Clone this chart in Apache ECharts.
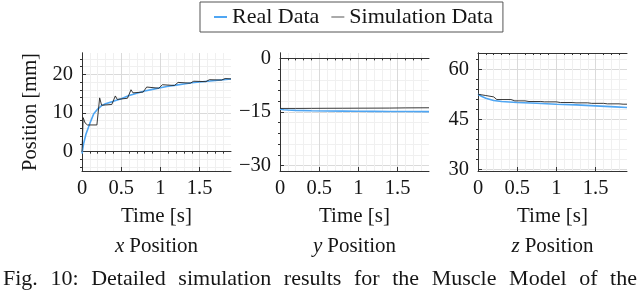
<!DOCTYPE html>
<html><head><meta charset="utf-8">
<script src="https://cdn.jsdelivr.net/npm/echarts@6/dist/echarts.min.js"></script>
<style>html,body{margin:0;padding:0;background:#fff}#c{width:640px;height:290px}</style>
</head><body><div id="c"></div>
<script>
// ---- data ----
const timeMajor = [0, 0.5, 1, 1.5];
const timeMinor = [0.1,0.2,0.3,0.4,0.6,0.7,0.8,0.9,1.1,1.2,1.3,1.4,1.6,1.7,1.8];
const xPosMajor = [0, 10, 20];
const xPosMinor = [-4,-2,2,4,6,8,12,14,16,18,22,24];
const yPosMajor = [-30, -15, 0];
const yPosMinor = [-27,-24,-21,-18,-12,-9,-6,-3];
const zPosMajor = [30, 45, 60];
const zPosMinor = [33,36,39,42,48,51,54,57,63];

const xReal = [[0,-0.5],[0.02,2],[0.05,4.5],[0.1,7.3],[0.15,9.8],[0.2,11],[0.25,11.9],[0.3,12.4],[0.4,13],[0.5,13.7],[0.6,14.5],[0.7,15.1],[0.8,15.7],[0.9,16.1],[1.0,16.5],[1.1,16.9],[1.2,17.2],[1.3,17.5],[1.4,17.8],[1.5,18],[1.6,18.2],[1.7,18.4],[1.8,18.6],[1.9,18.8]];
const xSim = [[0,0],[0.015,8.8],[0.04,7.4],[0.07,6.9],[0.19,6.9],[0.2,7.2],[0.225,13.9],[0.25,12],[0.38,12.2],[0.4,12.5],[0.425,14.4],[0.45,13.5],[0.58,13.8],[0.6,14.2],[0.625,16],[0.65,15.2],[0.78,15.4],[0.8,15.6],[0.825,16.7],[0.85,16.2],[0.98,16.4],[1.0,16.5],[1.025,17.3],[1.05,17],[1.18,17.1],[1.2,17.3],[1.225,17.9],[1.25,17.6],[1.38,17.7],[1.4,17.8],[1.425,18.2],[1.45,18],[1.58,18.1],[1.6,18.2],[1.625,18.6],[1.65,18.4],[1.78,18.5],[1.8,18.6],[1.825,18.9],[1.85,18.8],[1.9,18.8]];
const yReal = [[0,-14.2],[0.05,-14.35],[0.1,-14.45],[0.2,-14.55],[0.4,-14.65],[0.6,-14.7],[0.8,-14.75],[1.0,-14.8],[1.2,-14.82],[1.4,-14.85],[1.6,-14.88],[1.9,-14.9]];
const ySim = [[0,-14.0],[0.2,-14.0],[0.4,-13.98],[0.6,-13.96],[0.8,-13.95],[1.0,-13.93],[1.2,-13.92],[1.4,-13.9],[1.6,-13.85],[1.9,-13.82]];
const zReal = [[0,52.6],[0.05,51.9],[0.1,51.4],[0.2,50.7],[0.3,50.4],[0.5,50.1],[0.75,49.9],[1.0,49.6],[1.25,49.4],[1.5,49.1],[1.75,48.8],[1.9,48.6]];
const zSim = [[0,52.6],[0.05,52.4],[0.1,52.2],[0.2,51.8],[0.24,51.0],[0.42,51.0],[0.47,50.6],[0.6,50.6],[0.65,50.4],[0.8,50.4],[0.85,50.3],[1.0,50.3],[1.05,50.1],[1.2,50.1],[1.25,50.0],[1.4,50.0],[1.45,49.85],[1.6,49.85],[1.65,49.7],[1.8,49.7],[1.85,49.6],[1.9,49.6]];

const captionWords = ['Fig.', '10:', 'Detailed', 'simulation', 'results', 'for', 'the', 'Muscle', 'Model', 'of', 'the'];

const panels = [
  {left:82, yMin:-5, yMax:25.5, major:xPosMajor, minor:xPosMinor, real:xReal, sim:xSim, label:'x'},
  {left:280, yMin:-31.5, yMax:1.5, major:yPosMajor, minor:yPosMinor, real:yReal, sim:ySim, label:'y'},
  {left:478, yMin:29.5, yMax:65, major:zPosMajor, minor:zPosMinor, real:zReal, sim:zSim, label:'z'}
];
const FONT = 'Liberation Serif';
const AX = '#333';
const TXT = '#161616';
const fmt = v => (v < 0 ? '\u2212' + Math.abs(v) : String(v));
const lbl = s => '{s|' + s + '}';
const serifRich = size => ({s:{fontFamily:FONT, fontSize:size, color:TXT}});

const grid = [], xAxis = [], yAxis = [], series = [], graphic = [];
panels.forEach((p, i) => {
  grid.push({left: p.left, top: 53, width: 149, height: 118, containLabel: false});
  xAxis.push({type:'value', gridIndex:i, position:'top', min:0, max:1.9,
    axisLine:{show:true, lineStyle:{color:AX, width:1}},
    axisTick:{show:true, inside:true, length:2, customValues: timeMinor, lineStyle:{color:AX}},
    axisLabel:{show:false, customValues: timeMinor},
    splitLine:{show:true, lineStyle:{color:'#f0f0f0', width:1}}});
  xAxis.push({type:'value', gridIndex:i, position:'bottom', min:0, max:1.9,
    axisLine:{show:true, onZero:false, lineStyle:{color:AX, width:1}},
    axisTick:{show:true, inside:true, length:4, customValues: timeMajor, lineStyle:{color:AX}},
    axisLabel:{show:true, customValues: timeMajor, margin:7, fontFamily:FONT, fontSize:20.5, color:TXT,
      formatter: v => lbl(String(v)), rich: serifRich(20.5)},
    splitLine:{show:true, lineStyle:{color:'#dadada', width:1}}});
  yAxis.push({type:'value', gridIndex:i, position:'right', min:p.yMin, max:p.yMax,
    axisLine:{show:true, lineStyle:{color:AX, width:1}},
    axisTick:{show:true, inside:true, length:2, customValues: p.minor, lineStyle:{color:AX}},
    axisLabel:{show:false, customValues: p.minor},
    splitLine:{show:true, lineStyle:{color:'#f0f0f0', width:1}}});
  yAxis.push({type:'value', gridIndex:i, position:'left', min:p.yMin, max:p.yMax,
    axisLine:{show:true, onZero:false, lineStyle:{color:AX, width:1}},
    axisTick:{show:true, inside:true, length:4, customValues: p.major, lineStyle:{color:AX}},
    axisLabel:{show:true, customValues: p.major, margin:9, fontFamily:FONT, fontSize:20.5, color:TXT,
      formatter: v => lbl(fmt(v)), rich: serifRich(20.5)},
    splitLine:{show:true, lineStyle:{color:'#dadada', width:1}}});
  series.push({name:'Real Data', type:'line', xAxisIndex:2*i+1, yAxisIndex:2*i+1, data:p.real,
    showSymbol:false, symbol:'none', lineStyle:{color:'#4fa6f3', width:1.6}, itemStyle:{color:'#4fa6f3'}, z:3});
  series.push({name:'Simulation Data', type:'line', xAxisIndex:2*i+1, yAxisIndex:2*i+1, data:p.sim,
    showSymbol:false, symbol:'none', lineStyle:{color:'#222', width:0.9}, itemStyle:{color:'#222'}, z:4});
  const cx = p.left + 74.5;
  graphic.push({type:'text', x:cx, y:216, style:{text:'Time [s]', font:'21px "Liberation Serif"', fill:TXT, textAlign:'center', textVerticalAlign:'middle'}});
  graphic.push({type:'text', x:cx, y:246, style:{text:'{i|' + p.label + '} {r|Position}', font:'20px "Liberation Serif"', fill:TXT, textAlign:'center', textVerticalAlign:'middle',
    rich:{i:{font:'italic 21px "Liberation Serif"', fill:TXT}, r:{font:'21px "Liberation Serif"', fill:TXT}}}});
});
graphic.push({type:'text', x:31, y:112, rotation:Math.PI/2, style:{text:'Position [mm]', font:'20.5px "Liberation Serif"', fill:TXT, textAlign:'center', textVerticalAlign:'middle'}});

// justified caption: words spread across the full width
(function(){
  const ctx = document.createElement('canvas').getContext('2d');
  ctx.font = '22px "Liberation Serif"';
  const widths = captionWords.map(w => ctx.measureText(w).width);
  const total = widths.reduce((a,b)=>a+b, 0);
  const x0 = 3, x1 = 637;
  const gap = (x1 - x0 - total) / (captionWords.length - 1);
  let x = x0;
  captionWords.forEach((w, k) => {
    graphic.push({type:'text', x:x, y:279, style:{text:w, font:'22px "Liberation Serif"', fill:TXT, textAlign:'left', textVerticalAlign:'middle'}});
    x += widths[k] + gap;
  });
})();

const chart = echarts.init(document.getElementById('c'), null, {renderer:'canvas'});
chart.setOption({
  animation:false,
  backgroundColor:'#fff',
  textStyle:{fontFamily:FONT},
  legend:{left:200, top:2, orient:'horizontal', padding:[4,10,4,14], itemGap:12, itemWidth:13, itemHeight:2,
    borderColor:'#555', borderWidth:1, icon:'rect',
    formatter: name => lbl(name),
    textStyle:{fontFamily:FONT, fontSize:22, color:TXT, lineHeight:22, rich: serifRich(22)},
    data:[{name:'Real Data', itemStyle:{color:'#4fa6f3'}}, {name:'Simulation Data', itemStyle:{color:'#aaaaaa'}}]},
  grid, xAxis, yAxis, series, graphic
});
</script></body></html>
